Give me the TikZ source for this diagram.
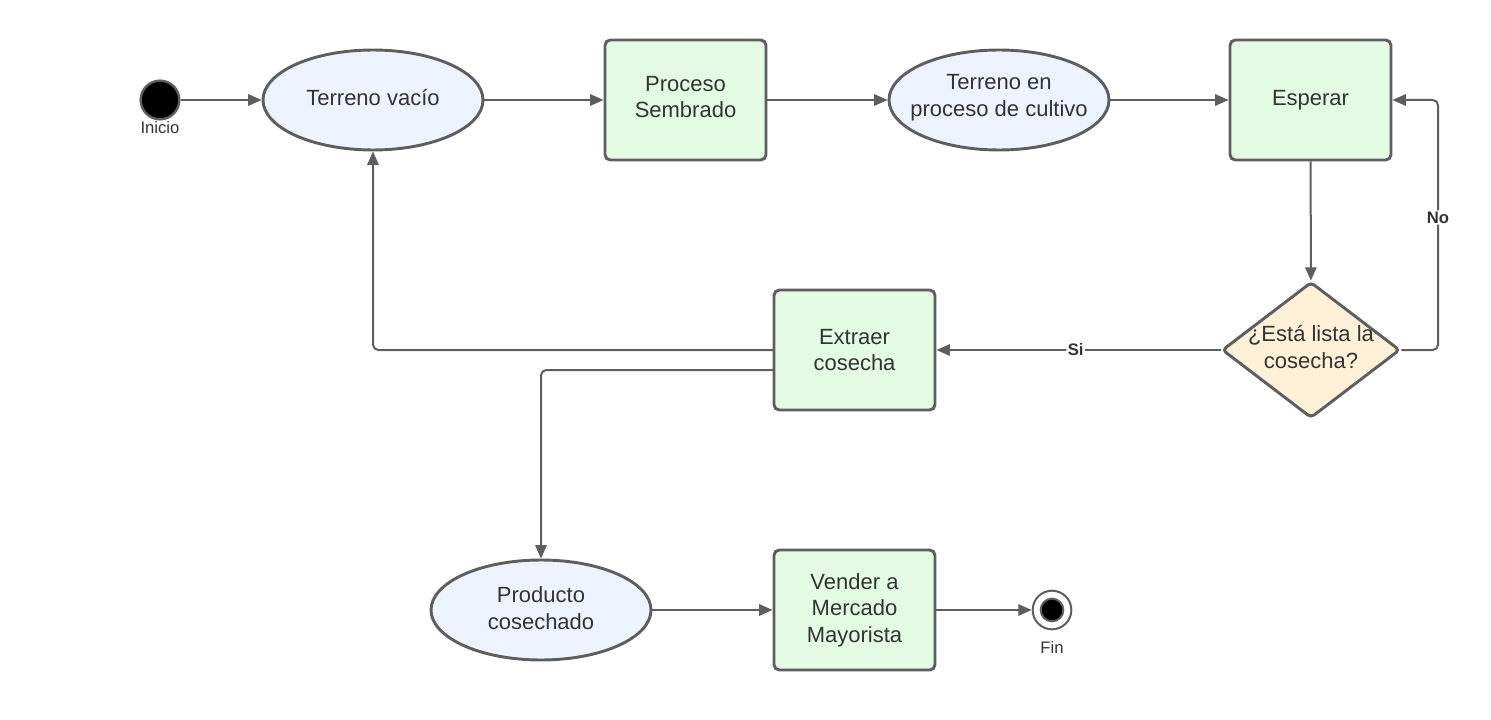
\documentclass[tikz,border=0pt]{standalone}
\usepackage{fontspec}
\setmainfont{Liberation Sans}
\usetikzlibrary{shapes.geometric,arrows.meta}
\definecolor{strk}{HTML}{5E5E5E}
\definecolor{txt}{HTML}{333333}
\definecolor{ellfill}{HTML}{EDF4FF}
\definecolor{recfill}{HTML}{E3FAE3}
\definecolor{decfill}{HTML}{FFF1D8}
\tikzset{
  stateell/.style={ellipse, draw=strk, line width=2.2pt, fill=ellfill, inner sep=0pt,
    minimum width=165pt, minimum height=75pt},
  shapetxt/.style={align=center, text=txt, inner sep=0pt,
    font=\fontsize{16.5}{20}\selectfont},
  actbox/.style={rectangle, rounded corners=4pt, draw=strk, line width=2.2pt, fill=recfill,
    minimum width=120.75pt, minimum height=90pt, inner sep=0pt, align=center, text=txt,
    font=\fontsize{16.5}{20}\selectfont},
  decbox/.style={diamond, draw=strk, line width=2.2pt, fill=decfill, inner sep=0pt,
    minimum width=133.5pt, minimum height=102pt, rounded corners=3pt},
  conn/.style={draw=strk, line width=1.5pt, -{Triangle[length=10pt,width=8.5pt]}, rounded corners=4pt},
  small/.style={text=txt, font=\fontsize{12.5}{14}\selectfont, inner sep=1pt},
  elab/.style={text=txt, fill=white, font=\bfseries\fontsize{12.5}{14}\selectfont, inner sep=1pt}
}
\begin{document}
\begin{tikzpicture}[x=0.75pt,y=-0.75pt]
\useasboundingbox (0,0) rectangle (1491,720);
% nodes
\node[circle, draw=strk, line width=1.8pt, fill=black, minimum size=29pt, inner sep=0pt] (ini) at (160,100) {};
\node[small] (inilab) at (160,128) {Inicio};
\node[stateell] (vacio) at (373,100) {};
\node[shapetxt] (vaciotxt) at (373,98) {Terreno vacío};
\node[actbox] (siembra) at (685.5,100) {};
\node[shapetxt] (siembratxt) at (685.5,97) {Proceso\\Sembrado};
\node[stateell] (cultivo) at (999,100) {};
\node[shapetxt] (cultivotxt) at (999,98) {Terreno en\\proceso de cultivo};
\node[actbox] (esperar) at (1310.5,100) {Esperar};
\node[decbox] (dec) at (1311,350) {};
\node[shapetxt] (dectxt) at (1311,347) {¿Está lista la\\cosecha?};
\node[actbox] (extraer) at (854.5,350) {Extraer\\cosecha};
\node[stateell] (producto) at (541,610) {};
\node[shapetxt] (productotxt) at (541,608) {Producto\\cosechado};
\node[actbox] (vender) at (854.5,610) {Vender a\\Mercado\\Mayorista};
\node[circle, draw=strk, line width=1.5pt, fill=white, minimum size=29pt, inner sep=0pt] (fin) at (1052,610) {};
\node[circle, draw=strk, line width=1.5pt, fill=black, minimum size=17pt, inner sep=0pt] (fininner) at (fin) {};
\node[small] (finlab) at (1052,647) {Fin};
% coordinates
\coordinate (noc1) at (1438,350);
\coordinate (noc2) at (1438,100);
\coordinate (exL1) at (774,350);
\coordinate (exL2) at (774,370);
% connectors
\draw[conn] (ini) -- (vacio);
\draw[conn] (vacio) -- (siembra);
\draw[conn] (siembra) -- (cultivo);
\draw[conn] (cultivo) -- (esperar);
\draw[conn] (esperar) -- (dec);
\draw[conn] (dec.east) -- (noc1) -- node[elab, pos=0.53] (nolab) {No} (noc2) -- (esperar.east);
\draw[conn] (dec.west) -- node[elab, pos=0.51] (silab) {Si} (extraer.east);
\draw[conn] (exL1) -| (vacio.south);
\draw[conn] (exL2) -| (producto.north);
\draw[conn] (producto) -- (vender);
\draw[conn] (vender) -- (fin);
\end{tikzpicture}
\end{document}
